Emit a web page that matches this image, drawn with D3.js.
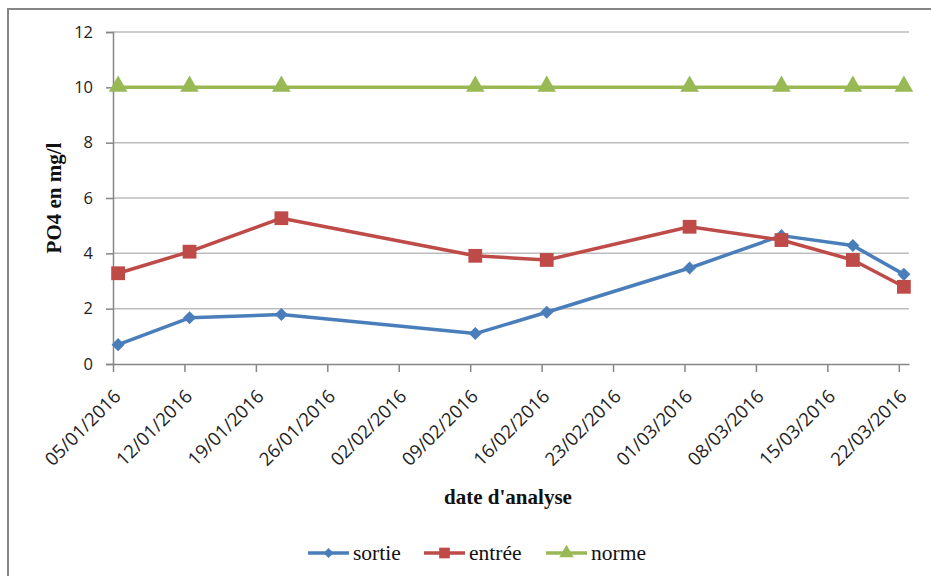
<!DOCTYPE html>
<html>
<head>
<meta charset="utf-8">
<script src="https://cdn.jsdelivr.net/npm/d3@7"></script>
<style>
  html, body { margin: 0; padding: 0; background: #fff; }
  svg { display: block; }
</style>
</head>
<body>
<svg id="chart" width="931" height="576"></svg>
<script>
// ---- data ----
const dates = ["2016-01-05", "2016-01-12", "2016-01-21", "2016-02-09", "2016-02-16", "2016-03-01", "2016-03-10", "2016-03-17", "2016-03-22"];
const sortie = [0.70, 1.67, 1.79, 1.10, 1.87, 3.47, 4.64, 4.28, 3.24];
const entree = [3.28, 4.06, 5.27, 3.91, 3.76, 4.96, 4.48, 3.76, 2.79];
const norme  = [10, 10, 10, 10, 10, 10, 10, 10, 10];
const xTickLabels = ["05/01/2016", "12/01/2016", "19/01/2016", "26/01/2016", "02/02/2016", "09/02/2016", "16/02/2016", "23/02/2016", "01/03/2016", "08/03/2016", "15/03/2016", "22/03/2016"];
const yTicks = [0, 2, 4, 6, 8, 10, 12];
const seriesNames = ["sortie", "entrée", "norme"];

const parseISO = d3.utcParse("%Y-%m-%d");
const parseFR = d3.utcParse("%d/%m/%Y");
const fmtFR = d3.utcFormat("%d/%m/%Y");

const svg = d3.select("#chart");
const pLeft = 113, pRight = 909, pTop = 32, pBottom = 364;

const firstTick = parseFR(xTickLabels[0]);
const lastTick = parseFR(xTickLabels[xTickLabels.length - 1]);
const x = d3.scaleUtc()
  .domain([firstTick, d3.utcDay.offset(lastTick, 1)])
  .range([pLeft, pRight]);
const y = d3.scaleLinear().domain([0, 12]).range([pBottom, pTop]);

// chart frame
svg.append("rect").attr("x", 8).attr("y", 9).attr("width", 960).attr("height", 620)
  .attr("fill", "none").attr("stroke", "#868686").attr("stroke-width", 2);

// gridlines
svg.append("g").selectAll("line").data(yTicks.filter(v => v > 0)).join("line")
  .attr("x1", pLeft).attr("x2", pRight)
  .attr("y1", d => y(d)).attr("y2", d => y(d))
  .attr("stroke", "#bdbdbd").attr("stroke-width", 1.5);

// y axis
const yAxis = svg.append("g").attr("transform", `translate(${pLeft},0)`)
  .call(d3.axisLeft(y).tickValues(yTicks).tickSize(7).tickPadding(13).tickFormat(d3.format("d")));
yAxis.select(".domain").attr("stroke", "#868686").attr("stroke-width", 1.5);
yAxis.selectAll(".tick line").attr("stroke", "#868686").attr("stroke-width", 1.5);
yAxis.selectAll(".tick text").attr("font-family", "'Open Sans', sans-serif").attr("font-size", 16.5).attr("fill", "#222");

// x axis
const xTickDates = xTickLabels.map(parseFR);
const xAxis = svg.append("g").attr("transform", `translate(0,${pBottom})`)
  .call(d3.axisBottom(x).tickValues(xTickDates).tickSize(8).tickSizeOuter(0).tickFormat(fmtFR));
xAxis.select(".domain").attr("stroke", "#868686").attr("stroke-width", 1.5);
xAxis.selectAll(".tick line").attr("stroke", "#868686").attr("stroke-width", 1.5);
xAxis.selectAll(".tick text")
  .attr("font-family", "'Open Sans', sans-serif").attr("font-size", 18.5).attr("fill", "#222")
  .attr("text-anchor", "end")
  .attr("x", 0).attr("y", 0).attr("dy", "0.35em")
  .attr("transform", "translate(4,29) rotate(-45)");

// axis titles
svg.append("text").attr("transform", `translate(${pLeft - 59},${(pTop + pBottom) / 2}) rotate(-90)`)
  .attr("text-anchor", "middle").attr("dy", "0.35em")
  .attr("font-family", "'Liberation Serif', serif").attr("font-weight", "bold").attr("font-size", 21)
  .attr("fill", "#111").text("PO4 en mg/l");
svg.append("text").attr("x", 508).attr("y", 504)
  .attr("text-anchor", "middle")
  .attr("font-family", "'Liberation Serif', serif").attr("font-weight", "bold").attr("font-size", 21)
  .attr("fill", "#111").text("date d'analyse");

// series
const colors = ["#4A7EBB", "#BE4B48", "#98B954"];
const symbols = [d3.symbolSquare, d3.symbolSquare, d3.symbolTriangle];
const symRot = [45, 0, 0];
const symSizes = [85, 190, 150];
const allValues = [sortie, entree, norme];
const pts = allValues.map(vals => vals.map((v, i) => ({ d: d3.utcHour.offset(parseISO(dates[i]), 12), v })));
const line = d3.line().x(p => x(p.d)).y(p => y(p.v));

pts.forEach((s, k) => {
  const g = svg.append("g");
  g.append("path").datum(s).attr("d", line).attr("fill", "none")
    .attr("stroke", colors[k]).attr("stroke-width", 3.5).attr("stroke-linejoin", "round");
  g.selectAll("path.m").data(s).join("path").attr("class", "m")
    .attr("transform", p => `translate(${x(p.d)},${y(p.v) + (k === 2 ? -1 : 0)}) rotate(${symRot[k]})`)
    .attr("d", d3.symbol().type(symbols[k]).size(symSizes[k]))
    .attr("fill", colors[k]);
});

// legend
const legendX = [308, 424, 546];
const legY = 553;
seriesNames.forEach((name, k) => {
  const g = svg.append("g").attr("transform", `translate(${legendX[k]},${legY})`);
  g.append("line").attr("x1", 0).attr("x2", 41).attr("y1", 0).attr("y2", 0)
    .attr("stroke", colors[k]).attr("stroke-width", 3.5);
  g.append("path").attr("transform", `translate(20.5,0) rotate(${symRot[k]})`)
    .attr("d", d3.symbol().type(symbols[k]).size(symSizes[k] * 0.6)).attr("fill", colors[k]);
  g.append("text").attr("x", 45).attr("y", 0).attr("dy", "0.32em")
    .attr("font-family", "'Liberation Serif', serif").attr("font-size", 21.5).attr("fill", "#111")
    .text(name);
});
</script>
</body>
</html>
